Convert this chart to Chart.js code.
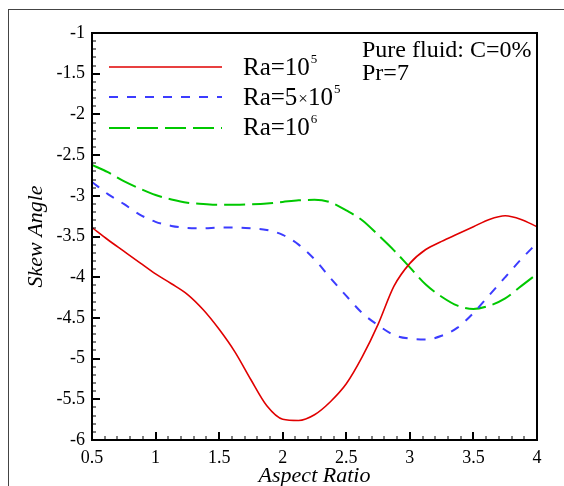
<!DOCTYPE html>
<html>
<head>
<meta charset="utf-8">
<script src="https://cdn.jsdelivr.net/npm/chart.js@4/dist/chart.umd.min.js"></script>
<style>
  html, body { margin: 0; padding: 0; background: #fff; }
  #wrap { position: relative; width: 564px; height: 486px; overflow: hidden; }
  #frame { position: absolute; left: 8px; top: 9px; width: 600px; height: 600px;
           border-left: 1px solid #444; border-top: 1px solid #444; pointer-events: none; }
  canvas { position: absolute; left: 0; top: 0; }
</style>
</head>
<body>
<div id="wrap">
  <div id="frame"></div>
  <canvas id="c" width="564" height="486"></canvas>
</div>
<script>
// Aspect ratio values (x)
const aspectRatio = [0.5, 0.625, 0.75, 0.875, 1.0, 1.125, 1.25, 1.375, 1.5, 1.625, 1.75, 1.875, 2.0, 2.125,
                     2.25, 2.375, 2.5, 2.625, 2.75, 2.875, 3.0, 3.125, 3.25, 3.375, 3.5, 3.625, 3.75, 3.875, 4.0];
// Skew angle for each Rayleigh number
const skewRa1e5 = [-3.39, -3.54, -3.68, -3.82, -3.96, -4.08, -4.21, -4.40, -4.64, -4.92, -5.26, -5.58, -5.745, -5.76,
                   -5.69, -5.53, -5.31, -4.98, -4.58, -4.11, -3.83, -3.66, -3.56, -3.47, -3.38, -3.29, -3.245, -3.29, -3.38];
const skewRa5e5 = [-2.83, -2.98, -3.10, -3.23, -3.32, -3.37, -3.395, -3.40, -3.39, -3.39, -3.40, -3.42, -3.48, -3.60,
                   -3.78, -4.01, -4.23, -4.44, -4.59, -4.71, -4.755, -4.765, -4.72, -4.62, -4.44, -4.22, -4.00, -3.78, -3.58];
const skewRa1e6 = [-2.62, -2.71, -2.82, -2.91, -2.99, -3.045, -3.085, -3.10, -3.11, -3.11, -3.105, -3.095, -3.075, -3.055,
                   -3.05, -3.08, -3.18, -3.30, -3.48, -3.67, -3.88, -4.09, -4.24, -4.35, -4.39, -4.35, -4.26, -4.11, -3.96];
// Legend labels: base^superscript
const seriesNames = ["Ra=10^5", "Ra=5×10^5", "Ra=10^6"];
const xTicks = [0.5, 1, 1.5, 2, 2.5, 3, 3.5, 4];
const yTicks = [-6, -5.5, -5, -4.5, -4, -3.5, -3, -2.5, -2, -1.5, -1];
const noteLines = ["Pure fluid: C=0%", "Pr=7"];
const xTitle = "Aspect Ratio";
const yTitle = "Skew Angle";

const SERIF = '"Liberation Serif", "Times New Roman", serif';
const toPts = arr => arr.map((v, i) => ({ x: aspectRatio[i], y: v }));

const styles = [
  { color: '#e00000', width: 1.6, dash: [] },
  { color: '#3c3cff', width: 2, dash: [9, 9] },
  { color: '#00c800', width: 2, dash: [21, 7] }
];
const values = [skewRa1e5, skewRa5e5, skewRa1e6];

const datasets = values.map((v, i) => ({
  label: seriesNames[i],
  data: toPts(v),
  borderColor: styles[i].color,
  borderWidth: styles[i].width,
  borderDash: styles[i].dash,
  pointRadius: 0,
  fill: false,
  cubicInterpolationMode: 'monotone'
}));

const decor = {
  id: 'decor',
  afterDraw(chart) {
    const ctx = chart.ctx;
    const xs = chart.scales.x, ys = chart.scales.y;
    const a = chart.chartArea;
    ctx.save();
    ctx.strokeStyle = '#000';
    for (let k = 5; k <= 40; k++) {
      const px = Math.round(xs.getPixelForValue(k / 10));
      const major = (k % 5 === 0);
      ctx.lineWidth = major ? 2 : 1;
      ctx.beginPath(); ctx.moveTo(px, a.bottom); ctx.lineTo(px, a.bottom - (major ? 8 : 4)); ctx.stroke();
    }
    for (let k = -60; k <= -10; k++) {
      const py = Math.round(ys.getPixelForValue(k / 10));
      const major = (k % 5 === 0);
      ctx.lineWidth = major ? 2 : 1;
      ctx.beginPath(); ctx.moveTo(a.left, py); ctx.lineTo(a.left + (major ? 8 : 4), py); ctx.stroke();
    }
    ctx.lineWidth = 2;
    ctx.strokeRect(a.left, a.top, a.right - a.left, a.bottom - a.top);

    ctx.fillStyle = '#000';
    ctx.font = 'italic 22px ' + SERIF;
    ctx.textAlign = 'center';
    ctx.textBaseline = 'alphabetic';
    ctx.fillText(xTitle, (a.left + a.right) / 2, 482);
    ctx.save();
    ctx.translate(42, (a.top + a.bottom) / 2);
    ctx.rotate(-Math.PI / 2);
    ctx.fillText(yTitle, 0, 0);
    ctx.restore();

    const ly = [67, 97, 128];
    const by = [75, 105, 135];
    ctx.textAlign = 'left';
    chart.data.datasets.forEach((ds, i) => {
      ctx.save();
      ctx.strokeStyle = ds.borderColor;
      ctx.lineWidth = ds.borderWidth;
      ctx.setLineDash(ds.borderDash);
      ctx.beginPath(); ctx.moveTo(109, ly[i]); ctx.lineTo(222, ly[i]); ctx.stroke();
      ctx.restore();
      const parts = ds.label.split('^');
      let x = 243;
      ctx.fillStyle = '#000';
      if (parts[0].includes('×')) {
        const [pre, post] = parts[0].split('×');
        ctx.font = '25px ' + SERIF;
        ctx.fillText(pre, x, by[i]); x += ctx.measureText(pre).width + 1;
        ctx.font = '17px ' + SERIF;
        ctx.fillText('×', x, by[i] - 1); x += ctx.measureText('×').width;
        ctx.font = '25px ' + SERIF;
        ctx.fillText(post, x, by[i]); x += ctx.measureText(post).width + 1;
      } else {
        ctx.font = '25px ' + SERIF;
        ctx.fillText(parts[0], x, by[i]); x += ctx.measureText(parts[0]).width + 1;
      }
      ctx.font = '13px ' + SERIF;
      ctx.fillText(parts[1], x, by[i] - 12);
    });

    ctx.font = '24px ' + SERIF;
    ctx.fillText(noteLines[0], 362, 57);
    ctx.fillText(noteLines[1], 362, 80);
    ctx.restore();
  }
};

new Chart(document.getElementById('c'), {
  type: 'line',
  data: { datasets },
  options: {
    responsive: false,
    animation: false,
    devicePixelRatio: 1,
    layout: { padding: { top: 33, right: 27, left: 0, bottom: 0 } },
    plugins: { legend: { display: false }, tooltip: { enabled: false } },
    scales: {
      x: {
        type: 'linear', min: 0.5, max: 4,
        afterBuildTicks: s => { s.ticks = xTicks.map(v => ({ value: v })); },
        afterFit: s => { s.height = 46; },
        ticks: { color: '#000', font: { family: SERIF, size: 18 }, padding: 7, maxRotation: 0,
                 callback: v => String(v) },
        grid: { display: false, drawTicks: false },
        border: { display: false }
      },
      y: {
        type: 'linear', min: -6, max: -1,
        afterBuildTicks: s => { s.ticks = yTicks.map(v => ({ value: v })); },
        afterFit: s => { s.width = 92; },
        ticks: { color: '#000', font: { family: SERIF, size: 18 }, padding: 7,
                 callback: v => String(v) },
        grid: { display: false, drawTicks: false },
        border: { display: false }
      }
    }
  },
  plugins: [decor]
});
</script>
</body>
</html>
